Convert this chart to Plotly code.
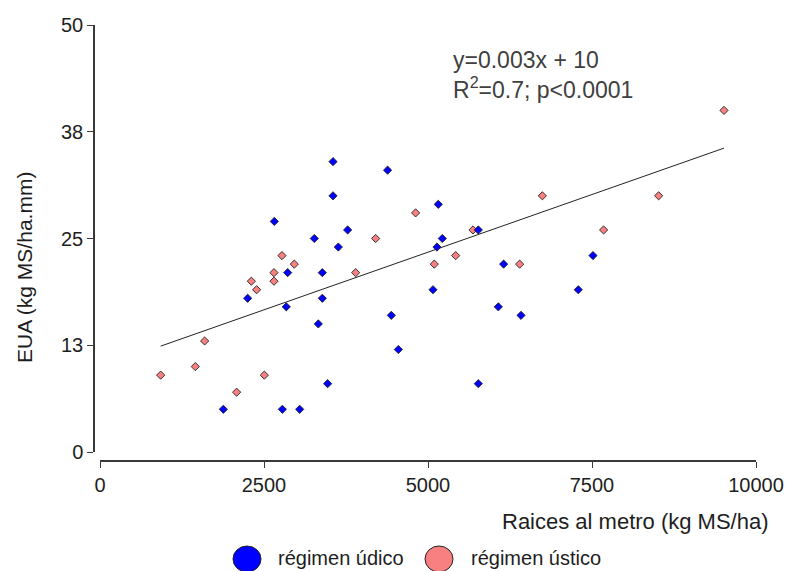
import plotly.graph_objects as go

# ---- data ----
udico_x = [3552, 3552, 2657, 3267, 3633, 2861, 3389, 2251, 2840, 3389, 3328, 3470,
           1880, 2780, 3044, 4384, 5157, 3775, 5218, 5137, 5767, 6153, 5076, 7291,
           6072, 6418, 4441, 4548, 5767, 7515]
udico_y = [34, 30, 27, 25, 24, 21, 21, 18, 17, 18, 15, 8,
           5, 5, 5, 33, 29, 26, 25, 24, 26, 22, 19, 19,
           17, 16, 16, 12, 8, 23]

ustico_x = [2774, 2962, 2652, 2307, 2652, 2388, 1595, 1453, 925, 2505, 2083,
            6743, 4811, 4202, 5686, 5422, 5096, 6397, 3897, 9512, 8516, 7677]
ustico_y = [23, 22, 21, 20, 20, 19, 13, 10, 9, 9, 7,
            30, 28, 25, 26, 23, 22, 22, 21, 40, 30, 26]

fit_slope = 0.0027
fit_intercept = 9.9

x_ticks = [0, 2500, 5000, 7500, 10000]
x_ticktext = ["0", "2500", "5000", "7500", "10000"]
y_ticks = [0, 12.5, 25, 37.5, 50]
y_ticktext = ["0", "13", "25", "38", "50"]

BLUE = "#0000FF"
PINK = "#F88080"
FONT = "Liberation Sans, Arial, sans-serif"

# ---- geometry helpers (pixel -> paper) ----
W, H = 785, 571
ML, MR, MT, MB = 94, 29, 25, 110
PW = W - ML - MR
PH = H - MT - MB


def px(xp):
    return (xp - ML) / PW


def py(yp):
    return (H - MB - yp) / PH


all_x = udico_x + ustico_x
xmin, xmax = min(all_x), max(all_x)

fig = go.Figure()
fig.add_trace(go.Scatter(
    x=[xmin, xmax],
    y=[fit_slope * xmin + fit_intercept, fit_slope * xmax + fit_intercept],
    mode="lines", line=dict(color="#222222", width=1), showlegend=False,
    hoverinfo="skip"))
fig.add_trace(go.Scatter(
    x=ustico_x, y=ustico_y, mode="markers", name="régimen ústico",
    marker=dict(symbol="diamond", size=6.3, color=PINK,
                line=dict(color="#222222", width=0.9)),
    showlegend=False))
fig.add_trace(go.Scatter(
    x=udico_x, y=udico_y, mode="markers", name="régimen údico",
    marker=dict(symbol="diamond", size=6.3, color=BLUE,
                line=dict(color="#222222", width=0.9)),
    showlegend=False))

axis_common = dict(showgrid=False, zeroline=False, showline=True,
                   linecolor="#3a3a3a", linewidth=1.5, ticks="outside",
                   ticklen=6, tickwidth=1.3, tickcolor="#3a3a3a",
                   tickfont=dict(family=FONT, size=20, color="#1e1e1e"),
                   anchor="free", position=0, automargin=False)

fig.update_layout(
    width=W, height=H, autosize=False,
    margin=dict(l=ML, r=MR, t=MT, b=MB, pad=0, autoexpand=False),
    paper_bgcolor="white", plot_bgcolor="white",
    showlegend=False,
    xaxis=dict(range=[0, 10000], tickvals=x_ticks, ticktext=x_ticktext,
               domain=[6 / PW, 1], **axis_common),
    yaxis=dict(range=[0, 50], tickvals=y_ticks, ticktext=y_ticktext,
               domain=[9 / PH, 1], **axis_common),
)

annots = [
    dict(text="y=0.003x + 10", x=px(451), y=py(60), xanchor="left",
         yanchor="middle", font=dict(family=FONT, size=23, color="#404040")),
    dict(text="R<sup>2</sup>=0.7; p&lt;0.0001", x=px(451), y=py(88),
         xanchor="left", yanchor="middle",
         font=dict(family=FONT, size=23, color="#404040")),
    dict(text="Raices al metro (kg MS/ha)", x=px(771), y=py(521),
         xanchor="right", yanchor="middle",
         font=dict(family=FONT, size=22, color="#1e1e1e")),
    dict(text="EUA (kg MS/ha.mm)", x=px(24), y=py(268), textangle=-90,
         xanchor="center", yanchor="middle",
         font=dict(family=FONT, size=21, color="#1e1e1e")),
    dict(text="régimen údico", x=px(276), y=py(558), xanchor="left",
         yanchor="middle", font=dict(family=FONT, size=20, color="#1e1e1e")),
    dict(text="régimen ústico", x=px(469), y=py(558), xanchor="left",
         yanchor="middle", font=dict(family=FONT, size=20, color="#1e1e1e")),
]
for a in annots:
    fig.add_annotation(xref="paper", yref="paper", showarrow=False, **a)

for cx, col in [(247, BLUE), (439, PINK)]:
    fig.add_shape(type="circle", xref="paper", yref="paper",
                  xsizemode="pixel", ysizemode="pixel",
                  xanchor=px(cx), yanchor=py(559),
                  x0=-14, x1=14, y0=-13, y1=13,
                  fillcolor=col, line=dict(color="#222222", width=1))

fig.write_html("out.html")
